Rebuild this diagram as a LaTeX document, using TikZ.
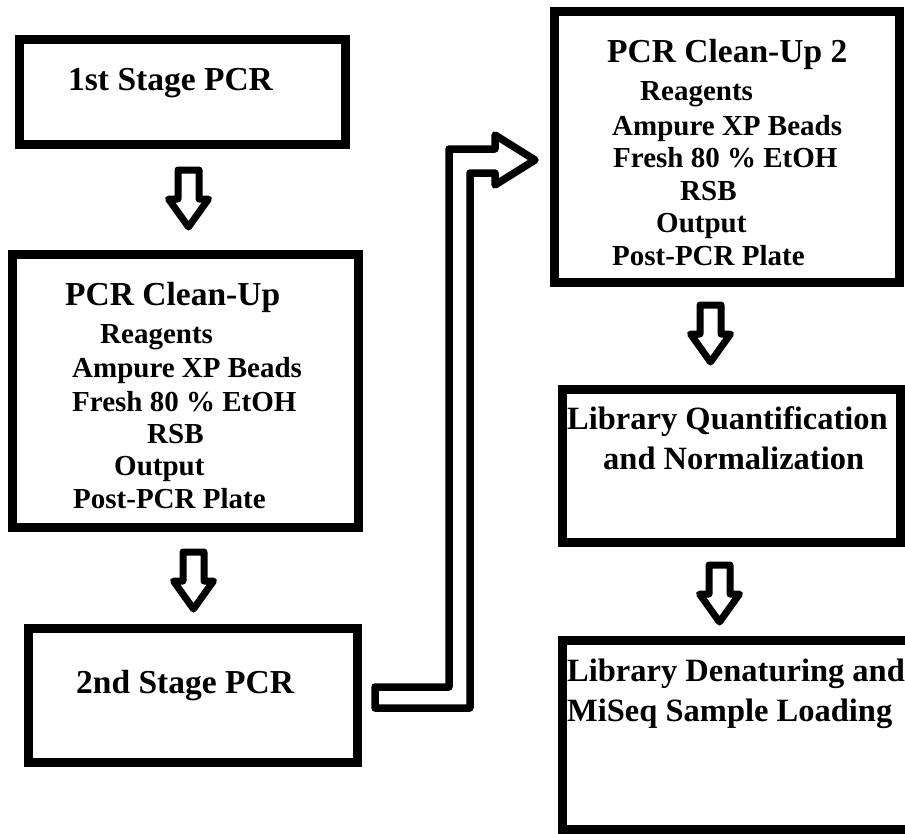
\documentclass[tikz,border=0pt]{standalone}
\usepackage{fontspec}
\setmainfont{Liberation Serif}
\begin{document}
\begin{tikzpicture}[x=1pt,y=-1pt,
  box/.style={draw, line width=9pt, inner sep=0pt, outer sep=0pt},
  ttl/.style={anchor=base west, inner sep=0pt, font=\fontsize{33.5}{40}\selectfont\bfseries},
  lib/.style={anchor=base west, inner sep=0pt, font=\fontsize{32.5}{40}\selectfont\bfseries},
  itm/.style={anchor=base west, inner sep=0pt, font=\fontsize{29}{34}\selectfont\bfseries},
  blk/.style={draw, line width=7pt, line join=round, fill=white},
  downblock/.pic={\draw[blk] (-10.5,0) -- (10.5,0) -- (10.5,29) -- (20,29) -- (0,57) -- (-20,29) -- (-10.5,29) -- cycle;}
]
\useasboundingbox (0,0) rectangle (905,833);
\begin{scope}
\clip (0,0) rectangle (905,833);

% process boxes
\node[box, minimum width=325.5pt, minimum height=104.5pt] (b1) at (182.25,91.75) {};
\node[box, minimum width=346pt,   minimum height=273pt]   (b2) at (185.5,391) {};
\node[box, minimum width=329pt,   minimum height=134pt]   (b3) at (192.5,695) {};
\node[box, minimum width=345pt,   minimum height=271pt]   (b4) at (726.5,146.5) {};
\node[box, minimum width=338pt,   minimum height=153pt]   (b5) at (731,465.5) {};
\node[box, minimum width=350pt,   minimum height=189.5pt] (b6) at (737,734.75) {};

% box texts
\node[ttl] (t1) at (68,90) {1st Stage PCR};

\node[ttl] (t2) at (65,305) {PCR Clean-Up};
\node[itm] (t2a) at (100,343) {Reagents};
\node[itm] (t2b) at (72,377) {Ampure XP Beads};
\node[itm] (t2c) at (72,411) {Fresh 80 \% EtOH};
\node[itm] (t2d) at (147,443) {RSB};
\node[itm] (t2e) at (114,475) {Output};
\node[itm] (t2f) at (73,508) {Post-PCR Plate};

\node[ttl] (t3) at (76,693) {2nd Stage PCR};

\node[ttl] (t4) at (607,62) {PCR Clean-Up 2};
\node[itm] (t4a) at (640,100) {Reagents};
\node[itm] (t4b) at (612,135) {Ampure XP Beads};
\node[itm] (t4c) at (613,167) {Fresh 80 \% EtOH};
\node[itm] (t4d) at (680,200) {RSB};
\node[itm] (t4e) at (656,232) {Output};
\node[itm] (t4f) at (612,265) {Post-PCR Plate};

\node[lib] (t5a) at (567,429) {Library Quantification};
\node[lib] (t5b) at (603,469) {and Normalization};

\node[lib] (t6a) at (567,681) {Library Denaturing and};
\node[lib] (t6b) at (567,721) {MiSeq Sample Loading};

% hollow down arrows between stages
\pic at (188.5,170) {downblock};
\pic at (193.5,552) {downblock};
\pic at (710.5,305) {downblock};
\pic at (719.5,565) {downblock};

% elbow arrow from 2nd Stage PCR up to PCR Clean-Up 2
\draw[blk, line width=7.5pt] (375,687) -- (449,687) -- (449,149) -- (495,149)
  -- (495,135) -- (535,160) -- (495,185) -- (495,173) -- (470,173)
  -- (470,708) -- (375,708) -- cycle;
\end{scope}
\end{tikzpicture}
\end{document}
